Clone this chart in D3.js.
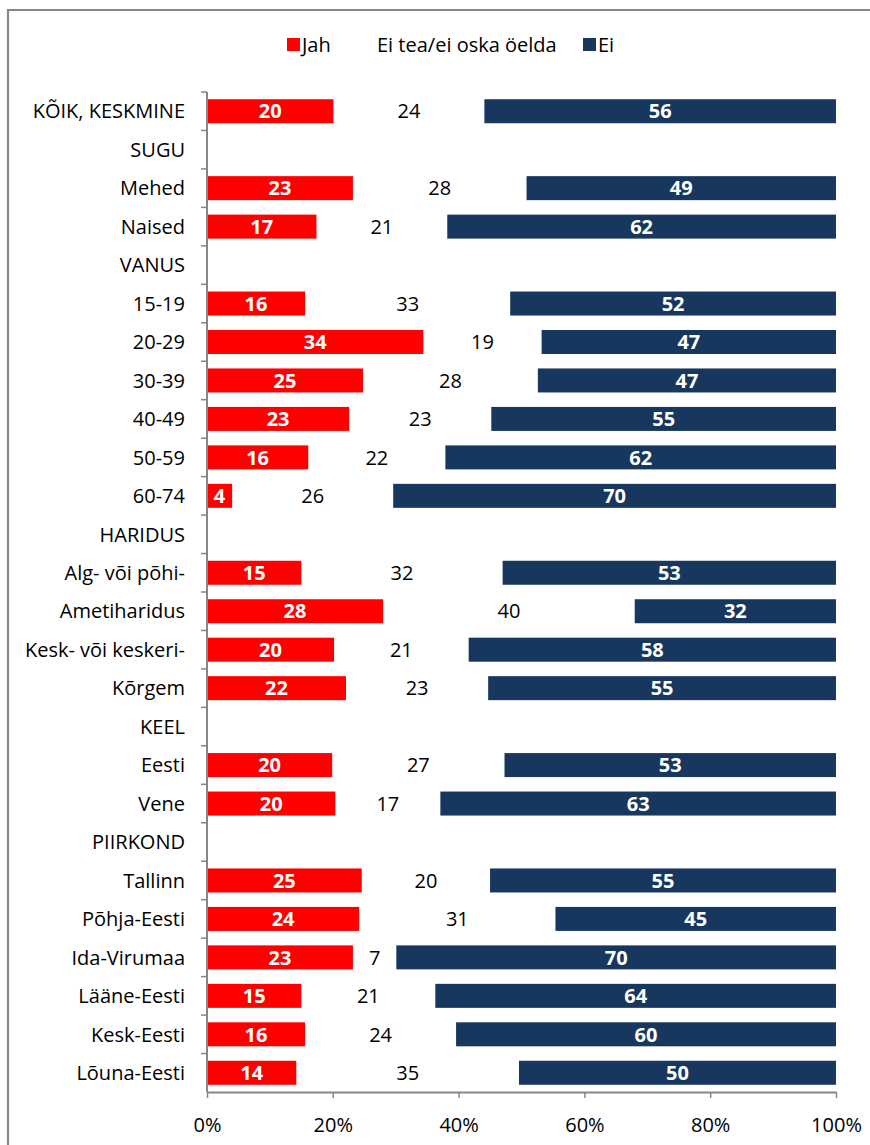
<!DOCTYPE html>
<html><head><meta charset="utf-8">
<script src="https://cdn.jsdelivr.net/npm/d3@7"></script>
<style>
html,body{margin:0;padding:0;background:#fff;}
svg{display:block;font-family:"Open Sans",sans-serif;}
</style></head>
<body>
<svg id="chart" width="870" height="1145"></svg>
<script>
const categories = ["KÕIK, KESKMINE","SUGU","Mehed","Naised","VANUS","15-19","20-29","30-39","40-49","50-59","60-74","HARIDUS","Alg- või põhi-","Ametiharidus","Kesk- või keskeri-","Kõrgem","KEEL","Eesti","Vene","PIIRKOND","Tallinn","Põhja-Eesti","Ida-Virumaa","Lääne-Eesti","Kesk-Eesti","Lõuna-Eesti"];
const jah   = [20.1,null,23.2,17.4,null,15.6,34.4,24.8,22.6,16.1,4.0,null,15.0,28.0,20.2,22.1,null,19.9,20.4,null,24.6,24.2,23.2,15.0,15.6,14.2];
const eitea = [24.0,null,27.6,20.8,null,32.6,18.8,27.8,22.6,21.8,25.6,null,32.0,40.0,21.4,22.6,null,27.4,16.7,null,20.4,31.2,6.9,21.3,24.0,35.4];
const ei    = [55.9,null,49.2,61.8,null,51.8,46.8,47.4,54.8,62.1,70.4,null,53.0,32.0,58.4,55.3,null,52.7,62.9,null,55.0,44.6,69.9,63.7,60.4,50.4];
const seriesNames = ["Jah","Ei tea/ei oska öelda","Ei"];
const xTickValues = [0,20,40,60,80,100];

const keys = ["jah","eitea","ei"];
const colors = {jah:"#FF0000", eitea:"none", ei:"#17375E"};
const labelFill = {jah:"#fff", eitea:"#000", ei:"#fff"};
const labelWeight = {jah:"bold", eitea:"normal", ei:"bold"};

const rows = categories.map((c,i)=>({cat:c, jah:jah[i], eitea:eitea[i], ei:ei[i]}));

const svg = d3.select("#chart");
const m = {left:207, right:836, top:92, bottom:1092};

// frame
svg.append("path").attr("d","M8,1145 V10 H870").attr("fill","none").attr("stroke","#878787").attr("stroke-width",2.2);

const x = d3.scaleLinear().domain([0,100]).range([m.left,m.right]);
const p = 0.376;
const y = d3.scaleBand().domain(categories).range([m.top,m.bottom]).paddingInner(p).paddingOuter(p/2);

const stacked = d3.stack().keys(keys).value((d,k)=>d[k]==null?0:d[k])(rows);

const g = svg.append("g");
stacked.forEach(s=>{
  const key = s.key;
  const grp = g.append("g");
  grp.selectAll("rect").data(s.filter(d=>d.data[key]!=null)).join("rect")
    .attr("x",d=>x(d[0])).attr("width",d=>x(d[1])-x(d[0]))
    .attr("y",d=>y(d.data.cat)).attr("height",y.bandwidth())
    .attr("fill",colors[key]);
  grp.selectAll("text").data(s.filter(d=>d.data[key]!=null)).join("text")
    .attr("x",d=>(x(d[0])+x(d[1]))/2).attr("y",d=>y(d.data.cat)+y.bandwidth()/2)
    .attr("dy","0.36em").attr("text-anchor","middle")
    .attr("fill",labelFill[key]).attr("font-weight",labelWeight[key])
    .attr("font-size",20)
    .text(d=>d3.format(".0f")(d.data[key]));
});

// y axis
const step = y.step();
const ya = svg.append("g");
ya.append("line").attr("x1",m.left).attr("x2",m.left).attr("y1",m.top).attr("y2",m.bottom).attr("stroke","#868686").attr("stroke-width",2);
ya.selectAll("line.t").data(categories).join("line").attr("class","t")
  .attr("x1",m.left-6).attr("x2",m.left)
  .attr("y1",d=>y(d)-step*p/2).attr("y2",d=>y(d)-step*p/2)
  .attr("stroke","#868686").attr("stroke-width",1.5);
ya.selectAll("text").data(categories).join("text")
  .attr("x",m.left-22).attr("y",d=>y(d)+y.bandwidth()/2).attr("dy","0.36em")
  .attr("text-anchor","end").attr("font-size",20).attr("fill","#000").text(d=>d);

// x axis
const xa = svg.append("g").attr("transform",`translate(0,${m.bottom})`)
  .call(d3.axisBottom(x).tickValues(xTickValues).tickSize(6).tickSizeOuter(0).tickFormat(d=>d+"%"));
xa.select(".domain").attr("stroke","#868686").attr("stroke-width",2);
xa.selectAll(".tick line").attr("stroke","#868686").attr("stroke-width",1.5);
xa.selectAll(".tick text").attr("font-size",20).attr("font-family","Open Sans").attr("fill","#000").attr("dy",0).attr("y",40);

// legend
const leg = svg.append("g");
const legItems = [
  {name:seriesNames[0], color:colors.jah, x:287},
  {name:seriesNames[1], color:null, x:362},
  {name:seriesNames[2], color:colors.ei, x:583}
];
legItems.forEach(it=>{
  if(it.color) leg.append("rect").attr("x",it.x).attr("y",38).attr("width",13).attr("height",13).attr("fill",it.color);
  leg.append("text").attr("x",it.x+15).attr("y",45).attr("dy","0.36em").attr("font-size",20).attr("fill","#000").text(it.name);
});
</script>
</body></html>
